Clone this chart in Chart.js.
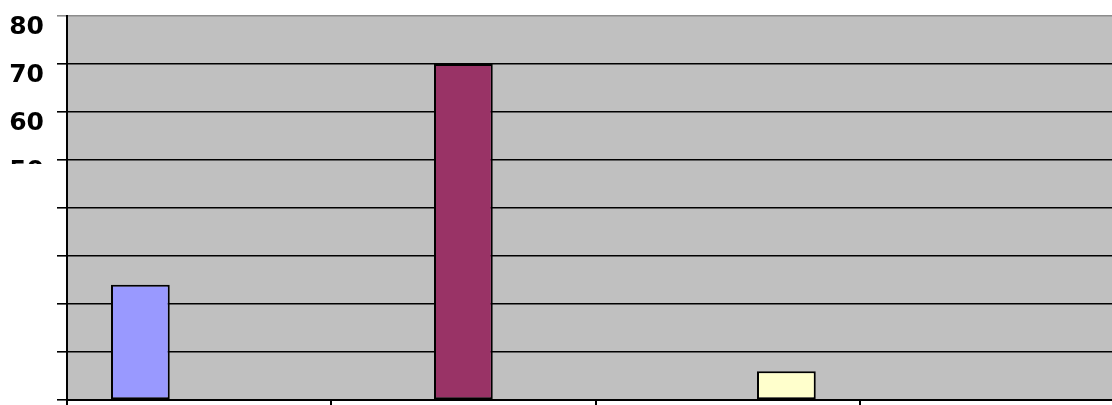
<!DOCTYPE html>
<html>
<head>
<meta charset="utf-8">
<script src="https://cdn.jsdelivr.net/npm/chart.js@4"></script>
<style>
  html, body { margin: 0; padding: 0; background: #fff; overflow: hidden; }
  canvas { display: block; }
</style>
</head>
<body>
<canvas id="chart" width="1124" height="410" style="width:1124px;height:410px"></canvas>
<script>
// values
const categories = ['1', '2', '3', '4'];
const seriesA = [24, null, null, null];
const seriesB = [null, 70, null, null];
const seriesC = [null, null, 6, null];
const yTicksShown = [80, 70, 60, 50];

// gray plot area + white mask over the lower y labels (as in the reference)
const plotBg = {
  id: 'plotBg',
  beforeDraw(chart) {
    const { ctx, chartArea: a } = chart;
    ctx.save();
    ctx.fillStyle = '#c0c0c0';
    ctx.fillRect(a.left, a.top, a.right - a.left, a.bottom - a.top);
    ctx.restore();
  },
  afterDraw(chart) {
    const { ctx } = chart;
    ctx.save();
    ctx.fillStyle = '#ffffff';
    ctx.fillRect(0, 164, 54, 260);
    ctx.restore();
  }
};

new Chart(document.getElementById('chart'), {
  type: 'bar',
  data: {
    labels: categories,
    datasets: [
      { data: seriesA, backgroundColor: '#9999ff' },
      { data: seriesB, backgroundColor: '#993366' },
      { data: seriesC, backgroundColor: '#ffffcc' }
    ].map(d => Object.assign(d, {
      borderColor: '#000',
      borderWidth: 2,
      borderSkipped: false,
      categoryPercentage: 0.667,
      barPercentage: 1.0
    }))
  },
  options: {
    responsive: false,
    animation: false,
    layout: { padding: { top: 16, right: 0, left: 0, bottom: 0 } },
    plugins: {
      legend: { display: false },
      tooltip: { enabled: false }
    },
    scales: {
      x: {
        afterFit(s) {
          s.height = 10;
          s.paddingLeft = 0; s.paddingRight = 0;
        },
        ticks: { display: false },
        grid: {
          offset: true,
          drawOnChartArea: false,
          drawTicks: true,
          tickLength: 8,
          color: '#000',
          lineWidth: 2
        },
        border: { color: '#000', width: 2 }
      },
      y: {
        min: 0,
        max: 80,
        afterFit(s) {
          s.width = 67;
          s.paddingTop = 0; s.paddingBottom = 0;
        },
        ticks: {
          stepSize: 10,
          padding: 13,
          labelOffset: 11,
          color: '#000',
          font: { family: 'DejaVu Sans', weight: 'bold', size: 25 },
          callback: v => yTicksShown.includes(v) ? String(v) : ''
        },
        grid: {
          color: ctx => ctx.tick && ctx.tick.value === 80 ? '#8c8c8c' : '#000',
          lineWidth: 1.6,
          tickLength: 10
        },
        border: { color: '#000', width: 2 }
      }
    }
  },
  plugins: [plotBg]
});
</script>
</body>
</html>
